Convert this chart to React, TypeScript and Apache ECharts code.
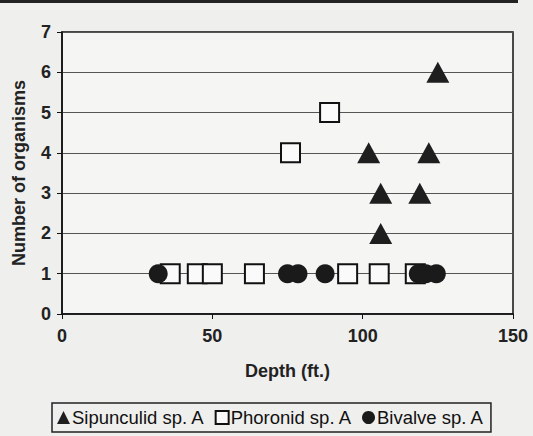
import React, { useEffect, useRef } from "react";
import * as echarts from "echarts";

const sipunculidDepth = [125, 102, 122, 106, 119, 106];
const sipunculidCount = [6, 4, 4, 3, 3, 2];
const phoronidDepth = [89, 76, 36, 45, 50, 64, 95, 105.5, 117.5];
const phoronidCount = [5, 4, 1, 1, 1, 1, 1, 1, 1];
const bivalveDepth = [32, 75, 78.5, 87.5, 118.5, 121, 124.5];
const bivalveCount = [1, 1, 1, 1, 1, 1, 1];
const xTicks = [0, 50, 100, 150];
const yMax = 7;

const pairs = (xs: number[], ys: number[]) => xs.map((x, i) => [x, ys[i]]);

const FONT = "Liberation Sans, Arial, sans-serif";

export default function App() {
  const ref = useRef<HTMLDivElement>(null);
  useEffect(() => {
    if (!ref.current) return;
    const chart = echarts.init(ref.current, null, { renderer: "svg" });
    chart.setOption({
      animation: false,
      backgroundColor: "#efefed",
      textStyle: { fontFamily: FONT },
      graphic: [
        { type: "rect", shape: { x: 0, y: 0, width: 518, height: 3 }, style: { fill: "#222" } },
      ],
      grid: {
        left: 62,
        top: 32,
        right: 20,
        bottom: 122,
        show: true,
        backgroundColor: "#f5f5f3",
        borderColor: "#111",
        borderWidth: 1.5,
      },
      xAxis: {
        type: "value",
        min: xTicks[0],
        max: xTicks[xTicks.length - 1],
        interval: 50,
        name: "Depth (ft.)",
        nameLocation: "middle",
        nameGap: 48,
        nameTextStyle: { fontWeight: "bold", fontSize: 18, color: "#222", fontFamily: FONT },
        axisLine: { show: true, lineStyle: { color: "#111", width: 1.5 } },
        axisTick: { show: true, length: 5, lineStyle: { color: "#111" } },
        axisLabel: { fontSize: 18, fontWeight: "bold", color: "#222", margin: 13, fontFamily: FONT },
        splitLine: { show: false },
      },
      yAxis: {
        type: "value",
        min: 0,
        max: yMax,
        interval: 1,
        name: "Number of organisms",
        nameLocation: "middle",
        nameGap: 34,
        nameTextStyle: { fontWeight: "bold", fontSize: 18, color: "#222", fontFamily: FONT },
        axisLine: { show: true, lineStyle: { color: "#111", width: 1.5 } },
        axisTick: { show: true, length: 5, lineStyle: { color: "#111" } },
        axisLabel: { fontSize: 18, fontWeight: "bold", color: "#222", margin: 11, fontFamily: FONT },
        splitLine: { show: true, lineStyle: { color: "#555", width: 1 } },
      },
      legend: {
        left: 52,
        top: 403,
        orient: "horizontal",
        padding: [5, 7, 5, 5],
        borderColor: "#222",
        borderWidth: 1.5,
        itemWidth: 13,
        itemHeight: 13,
        itemGap: 10,
        textStyle: { fontSize: 18.5, color: "#111", fontFamily: FONT, padding: [0, 0, 0, -3] },
        data: ["Sipunculid sp. A", "Phoronid sp. A", "Bivalve sp. A"],
      },
      series: [
        {
          name: "Sipunculid sp. A",
          type: "scatter",
          symbol: "triangle",
          symbolSize: [23, 21],
          itemStyle: { color: "#1e1e1e", opacity: 1 },
          data: pairs(sipunculidDepth, sipunculidCount),
        },
        {
          name: "Phoronid sp. A",
          type: "scatter",
          symbol: "rect",
          symbolSize: 19,
          itemStyle: { color: "#fafafa", borderColor: "#111", borderWidth: 2, opacity: 1 },
          data: pairs(phoronidDepth, phoronidCount),
        },
        {
          name: "Bivalve sp. A",
          type: "scatter",
          symbol: "circle",
          symbolSize: 19,
          itemStyle: { color: "#1a1a1a", opacity: 1 },
          data: pairs(bivalveDepth, bivalveCount),
        },
      ],
    });
    return () => chart.dispose();
  }, []);
  return (
    <div
      ref={ref}
      style={{ position: "fixed", left: 0, top: 0, width: 533, height: 436 }}
    />
  );
}
